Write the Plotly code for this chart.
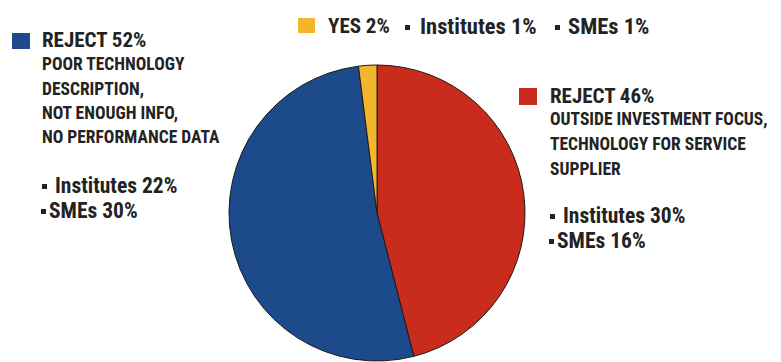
import plotly.graph_objects as go

W, H = 781, 362

# Data
labels = ["REJECT 46%", "REJECT 52%", "YES 2%"]
values = [46, 52, 2]
colors = ["#c92b1c", "#1d4a8b", "#f2b52c"]

# Text blocks
left_title = "REJECT 52%"
left_desc = ["POOR TECHNOLOGY", "DESCRIPTION,", "NOT ENOUGH INFO,", "NO PERFORMANCE DATA"]
left_split = ["Institutes 22%", "SMEs 30%"]

right_title = "REJECT 46%"
right_desc = ["OUTSIDE INVESTMENT FOCUS,", "TECHNOLOGY FOR SERVICE", "SUPPLIER"]
right_split = ["Institutes 30%", "SMEs 16%"]

top_title = "YES 2%"
top_split = ["Institutes 1%", "SMEs 1%"]

FONT = "Roboto Condensed, Archivo Narrow, DejaVu Sans Condensed, sans-serif"
TXT = "#232323"

cx, cy, r = 377, 213, 148

fig = go.Figure(go.Pie(
    labels=labels, values=values, sort=False, direction="clockwise", rotation=0,
    marker=dict(colors=colors, line=dict(color="#1a1a1a", width=1)),
    textinfo="none", hoverinfo="label+percent", showlegend=False,
    domain=dict(x=[(cx - r) / W, (cx + r) / W], y=[1 - (cy + r) / H, 1 - (cy - r) / H]),
))

ann = []
def add(text, xpx, ypx_mid, size):
    ann.append(dict(text=text, x=xpx / W, y=1 - ypx_mid / H, xref="paper", yref="paper",
                    xanchor="left", yanchor="middle", showarrow=False,
                    font=dict(family=FONT, size=size, color=TXT)))

def b(t):
    return "<b>" + t + "</b>"

shapes = []
def sq(x0, y0, x1, y1, c):
    shapes.append(dict(type="rect", xref="paper", yref="paper", x0=x0 / W, x1=x1 / W,
                       y0=1 - y1 / H, y1=1 - y0 / H, fillcolor=c, line=dict(width=0)))

def bullet(xpx, ypx_mid):
    sq(xpx, ypx_mid - 2, xpx + 5, ypx_mid + 3, TXT)

# Left block
add(b(left_title), 40, 40, 21)
for i, t in enumerate(left_desc):
    add(b(t), 40, 64 + i * 24.5, 17.5)
add(b(left_split[0]), 53, 185, 21.5)
bullet(42, 186)
add(b(left_split[1]), 47, 210, 21.5)
bullet(41, 211)

# Right block
add(b(right_title), 548, 96, 21)
for i, t in enumerate(right_desc):
    add(b(t), 548, 119 + i * 25, 17.5)
add(b(right_split[0]), 561, 215, 21.5)
bullet(550, 216)
add(b(right_split[1]), 555, 240, 21.5)
bullet(549, 241)

# Top line
add(b(top_title), 326, 26, 21)
bullet(405, 27)
add(b(top_split[0]), 418, 26, 22.5)
bullet(555, 27)
add(b(top_split[1]), 566, 26, 22.5)

sq(12, 33, 30, 49, colors[1])
sq(519, 88, 537, 105, colors[0])
sq(298, 18, 315, 33, colors[2])

fig.update_layout(width=W, height=H, margin=dict(l=0, r=0, t=0, b=0),
                  paper_bgcolor="white", plot_bgcolor="white",
                  annotations=ann, shapes=shapes)

fig.write_html("out.html")
